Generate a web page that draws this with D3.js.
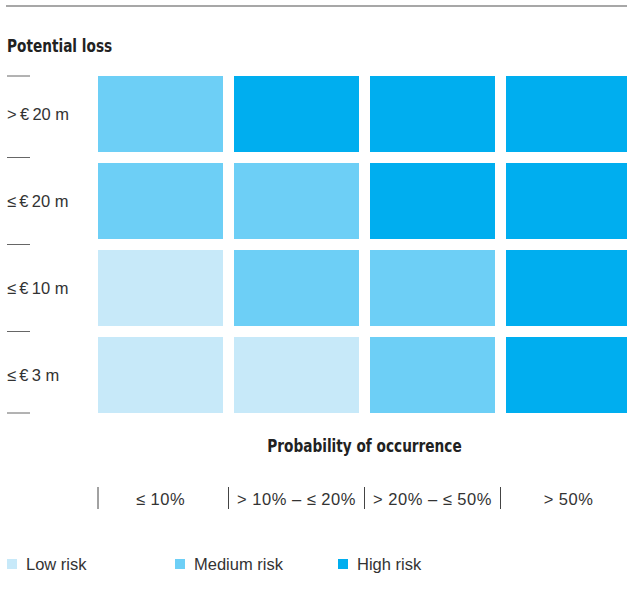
<!DOCTYPE html>
<html><head><meta charset="utf-8">
<script src="https://cdn.jsdelivr.net/npm/d3@7"></script>
<style>
body{margin:0;background:#fff;}
svg{display:block;}
.reg{font-family:"Liberation Sans",Arial,sans-serif;font-size:16.5px;fill:#333;}
.col{letter-spacing:0.5px;}
.bold{font-family:"DejaVu Sans",sans-serif;font-weight:bold;font-size:18px;fill:#222;}
</style></head>
<body><svg id="c" width="627" height="593"></svg>
<script>
const rowLabels = [">\u2009€\u200920 m", "≤\u2009€\u200920 m", "≤\u2009€\u200910 m", "≤\u2009€\u20093 m"];
const colLabels = ["≤ 10%", "> 10% – ≤ 20%", "> 20% – ≤ 50%", "> 50%"];
const riskLevels = ["Low risk", "Medium risk", "High risk"];
const riskColors = ["#c7e9f9", "#6dcff6", "#00aeef"];
// risk level per cell, rows top to bottom, columns left to right (0 low, 1 medium, 2 high)
const gridRisk = [
  [1, 2, 2, 2],
  [1, 1, 2, 2],
  [0, 1, 1, 2],
  [0, 0, 1, 2]
];

const svg = d3.select("#c");
const x = d3.scaleBand().domain(d3.range(colLabels.length)).range([98, 631]).paddingInner(11/136);
const y = d3.scaleBand().domain(d3.range(rowLabels.length)).range([76, 413]).paddingInner(11/87);
const color = d3.scaleOrdinal().domain([0,1,2]).range(riskColors);

// top rule
svg.append("line").attr("x1",6).attr("x2",627).attr("y1",6).attr("y2",6)
  .attr("stroke","#8a8a8a").attr("stroke-width",1.5);

svg.append("text").attr("class","bold").attr("transform","translate(7,52) scale(0.76,1)").text("Potential loss");

// cells
const cells = [];
gridRisk.forEach((row,r)=>row.forEach((v,c)=>cells.push({r,c,v})));
svg.append("g").selectAll("rect").data(cells).join("rect")
  .attr("x",d=>x(d.c)).attr("y",d=>y(d.r))
  .attr("width",x.bandwidth()).attr("height",y.bandwidth())
  .attr("fill",d=>color(d.v));

// row separators
const gapY = y.step()-y.bandwidth();
const rowLines = [y(0)].concat(d3.range(1,rowLabels.length).map(i=>y(i)-gapY/2)).concat([y(rowLabels.length-1)+y.bandwidth()]);
svg.append("g").selectAll("line").data(rowLines).join("line")
  .attr("x1",7).attr("x2",30).attr("y1",d=>d).attr("y2",d=>d)
  .attr("stroke","#666").attr("stroke-width",1);

svg.append("g").selectAll("text").data(rowLabels).join("text")
  .attr("class","reg").attr("x",7).attr("y",(d,i)=>y(i)+y.bandwidth()/2).attr("dy","0.36em")
  .text(d=>d);

// x title
svg.append("text").attr("class","bold").attr("text-anchor","middle")
  .attr("transform",`translate(${(98+631)/2},452) scale(0.76,1)`).text("Probability of occurrence");

// column separators and labels
const gapX = x.step()-x.bandwidth();
const colLines = colLabels.map((d,i)=> i===0 ? x(0) : x(i)-gapX/2);
svg.append("g").selectAll("line").data(colLines).join("line")
  .attr("x1",d=>d).attr("x2",d=>d).attr("y1",487).attr("y2",509)
  .attr("stroke","#444").attr("stroke-width",1);
svg.append("g").selectAll("text").data(colLabels).join("text")
  .attr("class","reg col").attr("text-anchor","middle")
  .attr("x",(d,i)=>x(i)+x.bandwidth()/2).attr("y",505).text(d=>d);

// legend
const legX = [7, 175, 338];
const lg = svg.append("g").selectAll("g").data(riskLevels).join("g")
  .attr("transform",(d,i)=>`translate(${legX[i]},559)`);
lg.append("rect").attr("width",10).attr("height",10).attr("fill",(d,i)=>riskColors[i]);
lg.append("text").attr("class","reg").attr("x",19).attr("y",5).attr("dy","0.36em").text(d=>d);
</script></body></html>
